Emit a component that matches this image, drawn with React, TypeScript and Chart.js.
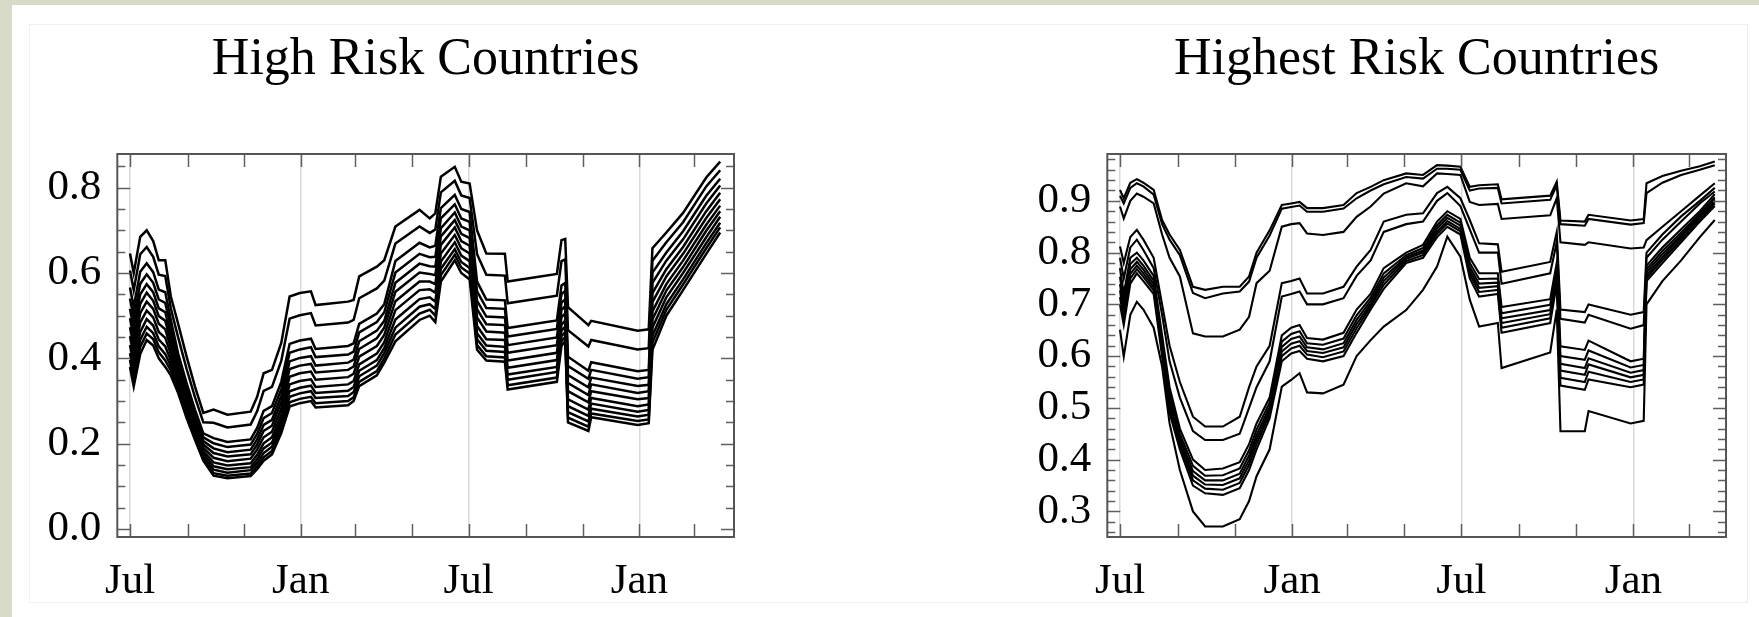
import React, { useEffect, useRef } from "react";
import { Chart, registerables } from "chart.js";

Chart.register(...registerables);

const FONT = "'Liberation Serif', 'Times New Roman', serif";

// ---- shared x axis (days since first July) ----
const TICK_DAYS = [0, 62, 123, 184, 243, 304, 365, 427, 488, 549, 608];
const MONTH_LABELS = ["Jul", "", "", "Jan", "", "", "Jul", "", "", "Jan", ""];
const GRID_DAYS = [0, 184, 365, 549];

// ---- High Risk Countries ----
const highTitle = "High Risk Countries";
const highYTicks = [0, 0.2, 0.4, 0.6, 0.8];
const highDays = [0,4,11,18,25,31,38,44,52,61,70,79,90,105,130,137,144,153,163,172,183,195,200,235,241,247,266,274,286,312,323,329,335,350,357,366,374,384,404,407,460,465,469,472,494,497,547,559,563,578,596,621,636];
const hr01 = [.646,.600,.685,.700,.675,.630,.630,.545,.480,.404,.334,.272,.280,.268,.275,.310,.365,.373,.436,.545,.553,.557,.525,.533,.537,.592,.615,.630,.709,.748,.728,.740,.826,.849,.814,.810,.700,.646,.645,.580,.598,.677,.680,.520,.478,.488,.465,.468,.658,.695,.741,.824,.861];
const hr02 = [.606,.560,.644,.661,.638,.596,.593,.517,.448,.375,.309,.250,.249,.238,.245,.276,.324,.333,.394,.493,.501,.506,.477,.484,.490,.541,.564,.582,.669,.709,.694,.702,.789,.816,.782,.776,.644,.596,.594,.529,.547,.628,.632,.466,.428,.443,.421,.424,.629,.672,.719,.803,.841];
const hr03 = [.566,.520,.603,.623,.602,.561,.555,.490,.410,.342,.280,.224,.213,.204,.210,.237,.277,.288,.345,.434,.442,.446,.422,.429,.435,.481,.505,.527,.628,.671,.660,.664,.752,.783,.750,.743,.580,.538,.536,.471,.489,.571,.577,.404,.371,.391,.370,.373,.601,.648,.698,.781,.821];
const hr04 = [.540,.494,.575,.597,.577,.538,.530,.471,.397,.331,.270,.215,.201,.192,.198,.223,.260,.272,.328,.413,.421,.426,.403,.409,.416,.461,.485,.508,.601,.645,.637,.638,.728,.761,.728,.720,.557,.518,.516,.451,.469,.551,.558,.382,.352,.373,.352,.356,.577,.629,.679,.763,.805];
const hr05 = [.516,.470,.550,.574,.555,.517,.508,.454,.384,.319,.260,.206,.189,.180,.186,.210,.244,.256,.312,.393,.401,.405,.383,.390,.397,.440,.465,.488,.577,.622,.616,.615,.705,.742,.709,.700,.535,.498,.496,.431,.449,.531,.538,.361,.332,.355,.335,.338,.553,.609,.661,.745,.788];
const hr06 = [.494,.448,.528,.554,.535,.499,.488,.440,.373,.309,.252,.198,.178,.170,.175,.198,.230,.242,.297,.375,.383,.387,.367,.373,.381,.422,.447,.472,.556,.601,.598,.595,.686,.724,.692,.682,.515,.480,.478,.413,.431,.514,.522,.342,.314,.339,.319,.323,.532,.592,.645,.729,.773];
const hr07 = [.473,.427,.506,.533,.516,.481,.468,.425,.362,.299,.243,.190,.167,.159,.165,.186,.215,.228,.282,.357,.365,.369,.350,.356,.364,.404,.429,.455,.534,.580,.580,.574,.666,.707,.675,.664,.496,.463,.460,.395,.413,.497,.505,.323,.297,.323,.304,.307,.510,.574,.629,.713,.758];
const hr08 = [.452,.406,.484,.512,.496,.462,.448,.410,.350,.289,.234,.182,.156,.149,.154,.174,.201,.215,.267,.339,.347,.351,.333,.339,.347,.386,.411,.438,.513,.560,.562,.554,.646,.689,.658,.646,.476,.445,.443,.378,.396,.479,.488,.304,.280,.307,.288,.292,.491,.559,.614,.699,.745];
const hr09 = [.431,.385,.462,.492,.477,.444,.428,.395,.341,.280,.227,.176,.147,.140,.145,.164,.189,.203,.255,.323,.331,.336,.319,.324,.333,.371,.396,.424,.491,.539,.543,.533,.627,.672,.641,.628,.459,.430,.427,.362,.380,.465,.474,.288,.265,.294,.275,.279,.472,.543,.600,.684,.732];
const hr10 = [.412,.366,.443,.474,.459,.428,.410,.382,.333,.273,.220,.170,.139,.132,.138,.155,.178,.193,.244,.310,.318,.323,.307,.312,.321,.358,.383,.412,.472,.521,.527,.516,.610,.656,.626,.612,.445,.418,.415,.350,.368,.452,.462,.274,.252,.282,.264,.268,.453,.527,.585,.670,.718];
const hr11 = [.396,.350,.427,.458,.445,.414,.395,.371,.324,.266,.214,.164,.131,.125,.130,.147,.168,.183,.233,.297,.305,.310,.295,.300,.309,.345,.370,.400,.456,.505,.514,.500,.595,.643,.613,.599,.431,.405,.402,.337,.355,.440,.450,.261,.240,.271,.253,.257,.437,.514,.573,.658,.707];
const hr12 = [.380,.334,.410,.443,.430,.400,.380,.360,.318,.260,.209,.160,.125,.119,.124,.140,.160,.175,.225,.287,.295,.300,.285,.290,.300,.335,.360,.390,.440,.490,.500,.485,.580,.630,.600,.585,.420,.395,.392,.327,.345,.430,.440,.250,.230,.262,.244,.248,.420,.500,.560,.645,.695];

// ---- Highest Risk Countries ----
const highestTitle = "Highest Risk Countries";
const highestYTicks = [0.3, 0.4, 0.5, 0.6, 0.7, 0.8, 0.9];
const highestDays = [0,4,11,18,25,36,45,53,64,78,91,110,128,138,146,160,173,183,192,200,217,239,253,268,282,306,324,339,350,364,374,384,404,408,460,467,471,497,501,546,560,563,580,600,620,636];
const hs01 = [.921,.905,.935,.942,.935,.921,.863,.835,.805,.734,.728,.734,.734,.754,.800,.843,.892,.895,.898,.886,.886,.892,.915,.927,.940,.953,.950,.969,.968,.966,.927,.930,.932,.903,.910,.937,.862,.860,.873,.862,.865,.934,.948,.958,.967,.976];
const hs02 = [.910,.895,.925,.934,.928,.912,.855,.825,.795,.722,.712,.721,.725,.744,.790,.833,.885,.888,.891,.879,.879,.885,.905,.920,.932,.946,.943,.962,.962,.960,.920,.924,.925,.895,.902,.930,.855,.852,.865,.854,.857,.915,.935,.950,.960,.969];
const hs03 = [.889,.866,.900,.914,.908,.895,.835,.790,.754,.644,.638,.638,.651,.676,.741,.765,.850,.855,.857,.837,.834,.840,.869,.889,.914,.934,.928,.953,.952,.950,.898,.892,.894,.865,.872,.905,.820,.815,.820,.808,.810,.824,.850,.880,.910,.934];
const hs04 = [.812,.780,.830,.844,.825,.790,.700,.620,.550,.483,.464,.464,.483,.540,.580,.620,.741,.745,.750,.721,.721,.734,.773,.805,.860,.873,.876,.915,.927,.905,.863,.818,.816,.763,.782,.840,.690,.685,.700,.680,.685,.800,.835,.870,.900,.925];
const hs05 = [.790,.750,.810,.825,.805,.770,.680,.590,.520,.455,.438,.438,.450,.500,.540,.590,.715,.720,.725,.700,.700,.712,.755,.785,.840,.855,.860,.900,.915,.890,.845,.800,.800,.740,.760,.820,.672,.665,.680,.653,.660,.790,.825,.860,.895,.918];
const hs06 = [.770,.720,.790,.800,.785,.755,.640,.540,.460,.400,.380,.383,.395,.430,.470,.520,.640,.655,.660,.635,.632,.645,.690,.720,.770,.800,.815,.860,.880,.865,.790,.760,.760,.695,.710,.780,.619,.612,.630,.590,.595,.775,.810,.845,.880,.913];
const hs07 = [.753,.705,.778,.790,.775,.746,.630,.528,.450,.388,.369,.370,.383,.418,.458,.510,.628,.643,.648,.625,.622,.634,.679,.713,.760,.795,.809,.853,.873,.858,.780,.749,.750,.683,.699,.770,.600,.593,.611,.578,.583,.768,.803,.839,.875,.907];
const hs08 = [.739,.693,.768,.782,.767,.739,.622,.518,.442,.378,.360,.360,.373,.408,.448,.502,.618,.633,.638,.617,.613,.625,.670,.707,.752,.791,.804,.847,.867,.852,.772,.740,.742,.673,.689,.762,.585,.577,.596,.568,.573,.762,.797,.834,.871,.903];
const hs09 = [.727,.683,.759,.775,.760,.733,.615,.509,.435,.369,.352,.351,.364,.399,.439,.495,.609,.624,.629,.610,.606,.617,.662,.701,.745,.788,.800,.841,.861,.846,.765,.732,.735,.664,.681,.755,.572,.564,.584,.559,.564,.756,.791,.830,.868,.899];
const hs10 = [.714,.672,.750,.768,.753,.727,.608,.500,.428,.360,.344,.342,.355,.390,.430,.488,.600,.615,.620,.603,.598,.609,.654,.696,.738,.784,.795,.836,.856,.841,.758,.724,.728,.655,.673,.748,.558,.550,.570,.550,.555,.751,.786,.825,.864,.895];
const hs11 = [.700,.660,.740,.760,.745,.720,.600,.490,.420,.350,.335,.332,.345,.380,.420,.480,.590,.605,.610,.595,.590,.600,.645,.690,.730,.780,.790,.830,.850,.835,.750,.715,.720,.645,.664,.740,.543,.535,.555,.540,.545,.745,.780,.820,.860,.890];
const hs12 = [.651,.599,.680,.705,.690,.655,.580,.470,.380,.300,.271,.271,.285,.320,.368,.420,.541,.554,.567,.530,.528,.545,.600,.631,.657,.689,.728,.773,.831,.792,.709,.657,.664,.577,.607,.690,.455,.455,.494,.470,.475,.700,.745,.785,.830,.863];

const highSeries = [hr01, hr02, hr03, hr04, hr05, hr06, hr07, hr08, hr09, hr10, hr11, hr12];
const highestSeries = [hs01, hs02, hs03, hs04, hs05, hs06, hs07, hs08, hs09, hs10, hs11, hs12];

type PanelCfg = {
  title: string;
  days: number[];
  series: number[][];
  yMin: number;
  yMax: number;
  yTicks: number[];
  minorStep: number;
  minorFrom: number;
  xMin: number;
  xMax: number;
  axisWidth: number;
  padRight: number;
  lineWidth: number;
};

const innerTicks = {
  id: "innerTicks",
  afterDraw(chart: any, _args: any, opts: any) {
    const { ctx, chartArea: a, scales } = chart;
    const xs = scales.x;
    const ys = scales.y;
    ctx.save();
    ctx.strokeStyle = "#5f5f5f";
    ctx.lineWidth = 1.5;
    ctx.beginPath();
    const n = Math.round((ys.max - opts.minorFrom) / opts.minorStep);
    for (let i = 0; i <= n; i++) {
      const v = opts.minorFrom + i * opts.minorStep;
      if (v > ys.max || v < ys.min) continue;
      const major = opts.majors.some((m: number) => Math.abs(m - v) < 1e-6);
      const len = major ? 13 : 8;
      const py = Math.round(ys.getPixelForValue(v)) + 0.5;
      ctx.moveTo(a.left, py);
      ctx.lineTo(a.left + len, py);
      ctx.moveTo(a.right, py);
      ctx.lineTo(a.right - len, py);
    }
    for (const d of TICK_DAYS) {
      const px = Math.round(xs.getPixelForValue(d)) + 0.5;
      ctx.moveTo(px, a.top);
      ctx.lineTo(px, a.top + 13);
      ctx.moveTo(px, a.bottom);
      ctx.lineTo(px, a.bottom - 13);
    }
    ctx.stroke();
    ctx.strokeStyle = "#555";
    ctx.lineWidth = 2;
    ctx.strokeRect(a.left, a.top, a.right - a.left, a.bottom - a.top);
    ctx.restore();
  },
};

function buildConfig(cfg: PanelCfg): any {
  return {
    type: "line",
    data: {
      datasets: cfg.series.map((s, k) => ({
        label: "s" + (k + 1),
        data: cfg.days.map((d, i) => ({ x: d, y: s[i] })),
        borderColor: "#000",
        borderWidth: cfg.lineWidth,
        pointRadius: 0,
        tension: 0,
        fill: false,
      })),
    },
    options: {
      responsive: false,
      animation: false,
      events: [],
      layout: { padding: { left: 0, right: cfg.padRight, top: 0, bottom: 0 } },
      plugins: {
        legend: { display: false },
        tooltip: { enabled: false },
        title: {
          display: true,
          text: cfg.title,
          fullSize: false,
          color: "#000",
          font: { family: FONT, size: 52, weight: "normal", lineHeight: 1.2 },
          padding: { top: 29, bottom: 62.6 },
        },
        innerTicks: { minorFrom: cfg.minorFrom, minorStep: cfg.minorStep, majors: cfg.yTicks },
      },
      scales: {
        x: {
          type: "linear",
          min: cfg.xMin,
          max: cfg.xMax,
          afterBuildTicks: (scale: any) => {
            scale.ticks = TICK_DAYS.map((v) => ({ value: v }));
          },
          afterFit: (scale: any) => {
            scale.height = 80;
          },
          ticks: {
            autoSkip: false,
            maxRotation: 0,
            minRotation: 0,
            padding: 19,
            color: "#000",
            font: { family: FONT, size: 43 },
            callback: (value: number) => {
              const i = TICK_DAYS.indexOf(value);
              return i >= 0 ? MONTH_LABELS[i] : "";
            },
          },
          grid: {
            drawTicks: false,
            lineWidth: 1.5,
            color: (c: any) =>
              c.tick && GRID_DAYS.includes(c.tick.value) ? "#d9d9d9" : "rgba(0,0,0,0)",
          },
          border: { display: false },
        },
        y: {
          type: "linear",
          min: cfg.yMin,
          max: cfg.yMax,
          afterBuildTicks: (scale: any) => {
            scale.ticks = cfg.yTicks.map((v) => ({ value: v }));
          },
          afterFit: (scale: any) => {
            scale.width = cfg.axisWidth;
          },
          ticks: {
            padding: 16,
            color: "#000",
            font: { family: FONT, size: 43 },
            callback: (value: number) => value.toFixed(1),
          },
          grid: { display: false, drawTicks: false },
          border: { display: false },
        },
      },
    },
    plugins: [innerTicks],
  };
}

const highCfg: PanelCfg = {
  title: highTitle,
  days: highDays,
  series: highSeries,
  yMin: -0.0187,
  yMax: 0.879,
  yTicks: highYTicks,
  minorStep: 0.05,
  minorFrom: 0,
  xMin: -13.7,
  xMax: 650.9,
  axisWidth: 117.3,
  padRight: 146,
  lineWidth: 2.5,
};

const highestCfg: PanelCfg = {
  title: highestTitle,
  days: highestDays,
  series: highestSeries,
  yMin: 0.2506,
  yMax: 0.9905,
  yTicks: highestYTicks,
  minorStep: 0.02,
  minorFrom: 0.26,
  xMin: -13.6,
  xMax: 648,
  axisWidth: 227.3,
  padRight: 33,
  lineWidth: 2.1,
};

function Panel({ left, width, cfg }: { left: number; width: number; cfg: PanelCfg }) {
  const ref = useRef<HTMLCanvasElement>(null);
  useEffect(() => {
    const chart = new Chart(ref.current as HTMLCanvasElement, buildConfig(cfg));
    return () => chart.destroy();
  }, [cfg]);
  return (
    <canvas
      ref={ref}
      width={width}
      height={617}
      style={{ position: "absolute", left, top: 0, width, height: 617 }}
    />
  );
}

export default function App() {
  return (
    <div
      style={{
        position: "fixed",
        left: 0,
        top: 0,
        width: 1759,
        height: 617,
        background: "#d9dbc9",
        overflow: "hidden",
      }}
    >
      <div
        style={{
          position: "absolute",
          left: 12,
          top: 5,
          width: 1747,
          height: 612,
          background: "#ffffff",
        }}
      />
      <div
        style={{
          position: "absolute",
          left: 29,
          top: 24,
          width: 1717,
          height: 577,
          border: "1px solid #efefef",
        }}
      />
      <Panel left={0} width={880} cfg={highCfg} />
      <Panel left={880} width={879} cfg={highestCfg} />
    </div>
  );
}
